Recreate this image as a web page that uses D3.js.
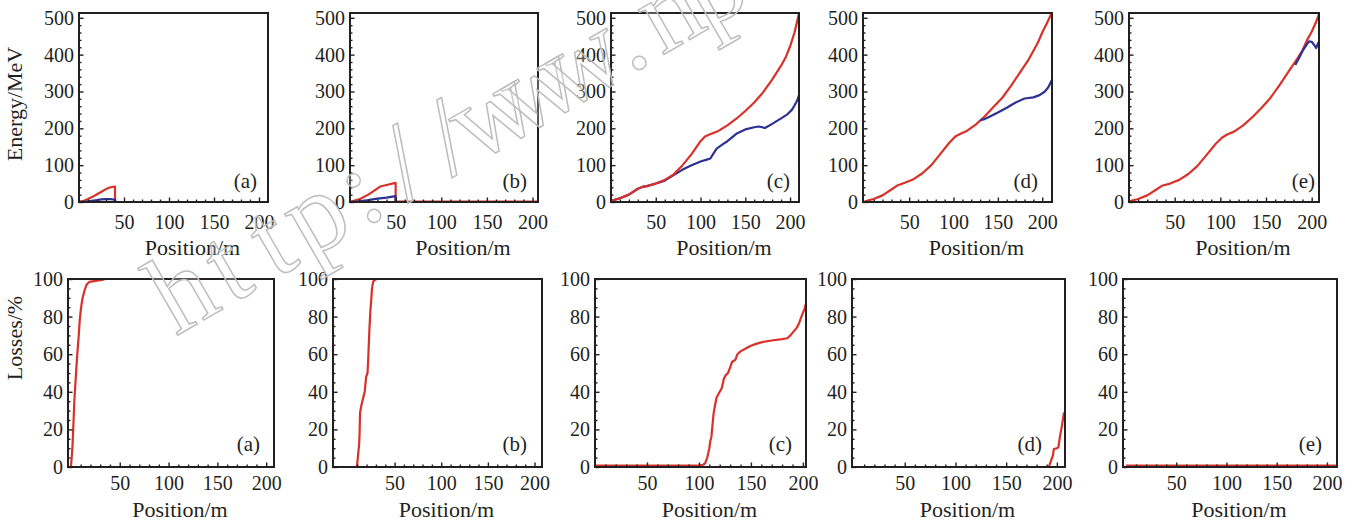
<!DOCTYPE html>
<html>
<head>
<meta charset="utf-8">
<script src="https://cdn.jsdelivr.net/npm/d3@7/dist/d3.min.js"></script>
<style>
  html, body { margin: 0; padding: 0; background: #fff; }
  svg { display: block; }
</style>
</head>
<body>
<svg id="fig" width="1364" height="523"></svg>
<script>
// tick values and labels
const xTicks = [50, 100, 150, 200];
const energyTicks = [0, 100, 200, 300, 400, 500];
const lossTicks = [0, 20, 40, 60, 80, 100];
const panelLetters = ['(a)', '(b)', '(c)', '(d)', '(e)'];

// Energy along the linac [position m, energy MeV]; red = design, blue = beam
const energyRedA = [[0, 0], [5, 3], [10, 8], [15, 14], [20, 21], [25, 28], [30, 35], [35, 40], [40, 42], [40, 0]];
const energyBlueA = [[0, 0], [10, 2], [20, 5], [25, 7], [30, 8], [35, 8], [40, 6], [40, 0]];
const energyRedB = [[0, 0], [10, 7], [20, 20], [25, 28], [33, 42], [40, 46], [50, 52], [50, 0.8], [206, 0.8]];
const energyBlueB = [[0, 0], [10, 2], [20, 5], [30, 9], [40, 12], [50, 16], [50, 0]];
const energyRedC = [[0, 3], [10, 10], [20, 20], [30, 36], [35, 41], [40, 43], [50, 50], [60, 60], [70, 75], [80, 100],
  [90, 130], [100, 165], [105, 178], [110, 183], [120, 193], [130, 208], [140, 226], [150, 247], [160, 270], [170, 298],
  [180, 332], [190, 370], [195, 392], [200, 422], [205, 460], [210, 512]];
const energyBlueC = [[0, 3], [10, 10], [20, 20], [30, 36], [35, 41], [40, 43], [50, 50], [55, 54], [60, 58], [70, 73],
  [80, 88], [90, 100], [100, 110], [107, 115], [111, 118], [114, 130], [118, 145], [125, 157], [130, 165], [140, 185],
  [150, 197], [160, 203], [165, 205], [172, 201], [180, 212], [190, 227], [197, 238], [202, 250], [205, 262], [208, 276], [210, 290]];
const energyRedD = [[0, 2], [10, 8], [20, 18], [30, 34], [36, 44], [45, 52], [55, 62], [65, 78], [75, 100], [85, 130],
  [95, 160], [102, 178], [108, 185], [115, 193], [125, 210], [135, 232], [145, 258], [155, 283], [165, 316], [175, 352],
  [185, 388], [195, 432], [200, 460], [205, 484], [211, 515]];
const energyBlueD = [[130, 222], [135, 225], [140, 231], [150, 243], [160, 256], [170, 270], [180, 281], [190, 284],
  [197, 290], [203, 300], [207, 312], [211, 332]];
const energyRedE = [[0, 2], [10, 8], [20, 18], [30, 34], [36, 44], [45, 50], [55, 60], [65, 76], [75, 98], [85, 128],
  [95, 158], [102, 175], [108, 184], [115, 191], [125, 208], [135, 230], [145, 255], [155, 283], [165, 318], [175, 355],
  [185, 392], [190, 412], [195, 440], [200, 462], [205, 490], [208, 510]];
const energyBlueE = [[182, 372], [186, 390], [190, 410], [194, 425], [197, 436], [200, 435], [203, 425], [205, 418],
  [207, 432], [208, 426]];

// Beam losses [position m, %]
const lossA = [[0, 0], [1.5, 10], [2.5, 22], [3.5, 35], [5, 48], [6.5, 60], [8, 70], [9, 78], [10, 83], [11, 87],
  [12, 90], [14, 94], [16, 97], [19, 98.5], [25, 99], [32, 99.5], [35, 100], [208, 100]];
const lossB = [[9.5, 0], [10.5, 4], [11, 7], [12, 12], [12.5, 18], [13, 29], [14.5, 33], [16, 36], [18, 40], [19.5, 48],
  [21, 50], [21.8, 58], [22.5, 67], [23.3, 76], [24.2, 84], [25, 89], [25.8, 95], [27, 98.5], [29, 99.6], [31, 100]];
const lossC = [[0, 0.8], [100, 0.8], [104, 1.2], [106, 2], [108, 5], [110, 10], [111, 14], [112, 16], [113, 22], [114, 28],
  [115.5, 33], [117, 37], [120, 40], [122, 42], [124, 47], [126, 49], [128, 50], [130, 53], [132, 56], [135, 57], [137, 60],
  [140, 61.5], [145, 63], [150, 64.5], [155, 65.5], [160, 66.3], [170, 67.3], [180, 68], [185, 68.5], [188, 70], [191, 72],
  [194, 74], [196, 76], [198, 79], [200, 82], [201.5, 84], [203, 87]];
const lossD = [[0, 0], [192, 0], [194, 3], [196, 6], [197, 9.5], [200, 10], [201.5, 10.5], [203, 16], [205, 22], [207, 29]];
const lossE = [[0, 0.8], [210, 0.8]];

const watermark = 'http://www.npr.';

const RED = '#d8312a';
const BLUE = '#2d3192';
const INK = '#231f20';
const FONT = '"Liberation Serif", "Times New Roman", serif';

// Panel layout (pixel frames) - the original figure panels are not evenly spaced.
// series are listed in drawing order
const topRow = [
  { left: 79, right: 268, xDomain: [0, 210], inset: 11, series: [[energyRedA, RED], [energyBlueA, BLUE]] },
  { left: 350, right: 538, xDomain: [0, 206], inset: 11, series: [[energyRedB, RED], [energyBlueB, BLUE]] },
  { left: 611, right: 799, xDomain: [0, 210], inset: 9, series: [[energyBlueC, BLUE], [energyRedC, RED]] },
  { left: 863, right: 1052, xDomain: [-2, 211], inset: 14, series: [[energyRedD, RED], [energyBlueD, BLUE]] },
  { left: 1129, right: 1319, xDomain: [0, 208], inset: 4, series: [[energyRedE, RED], [energyBlueE, BLUE]] },
];
const bottomRow = [
  { left: 68, right: 274, xDomain: [-3, 208], inset: 14, series: [[lossA, RED]] },
  { left: 333, right: 542, xDomain: [-16, 208], inset: 15, series: [[lossB, RED]] },
  { left: 595, right: 806, xDomain: [0, 203], inset: 14, series: [[lossC, RED]] },
  { left: 852, right: 1065, xDomain: [-2, 208], inset: 23, series: [[lossD, RED]] },
  { left: 1123, right: 1337, xDomain: [-3, 210], inset: 15, series: [[lossE, RED]] },
];

const svg = d3.select('#fig');
const defs = svg.append('defs');

function drawPanel(p, i, row) {
  const x = d3.scaleLinear().domain(p.xDomain).range([p.left, p.right]);
  const y = d3.scaleLinear().domain(row.yDomain).range([row.bottom, row.top]);
  const g = svg.append('g');

  const clipId = `clip-${row.name}-${i}`;
  defs.append('clipPath').attr('id', clipId)
    .append('rect')
    .attr('x', p.left).attr('y', row.top)
    .attr('width', p.right - p.left).attr('height', row.bottom - row.top);

  const line = d3.line()
    .x((d) => { return x(d[0]); })
    .y((d) => { return y(d[1]); });

  p.series.forEach(([data, color]) => {
    g.append('path')
      .datum(data)
      .attr('clip-path', `url(#${clipId})`)
      .attr('fill', 'none')
      .attr('stroke', color)
      .attr('stroke-width', 2.2)
      .attr('stroke-linejoin', 'round')
      .attr('d', line);
  });

  // minor ticks
  const xMinor = d3.range(10, p.xDomain[1], 10).filter((v) => v % 50 !== 0);
  g.append('g')
    .attr('transform', `translate(0, ${row.bottom})`)
    .call(d3.axisBottom(x).tickValues(xMinor).tickSize(-2.5).tickFormat(''))
    .call((a) => a.select('.domain').remove());
  const yMinor = d3.range(0, row.yDomain[1], row.yMinorStep).filter((v) => !row.ticks.includes(v));
  g.append('g')
    .attr('transform', `translate(${p.left}, 0)`)
    .call(d3.axisLeft(y).tickValues(yMinor).tickSize(-2.5).tickFormat(''))
    .call((a) => a.select('.domain').remove());

  // major ticks + labels
  const xAxis = g.append('g')
    .attr('transform', `translate(0, ${row.bottom})`)
    .call(d3.axisBottom(x).tickValues(xTicks).tickSize(-4.5).tickPadding(row.xPad));
  const yAxis = g.append('g')
    .attr('transform', `translate(${p.left}, 0)`)
    .call(d3.axisLeft(y).tickValues(row.ticks).tickSize(-4.5).tickPadding(5));
  [xAxis, yAxis].forEach((a) => {
    a.select('.domain').remove();
    a.attr('font-family', FONT).attr('font-size', 20);
    a.selectAll('text').attr('fill', INK);
  });
  g.selectAll('.tick line').attr('stroke', INK).attr('stroke-width', 1.4);

  // frame
  g.append('rect')
    .attr('x', p.left).attr('y', row.top)
    .attr('width', p.right - p.left).attr('height', row.bottom - row.top)
    .attr('fill', 'none')
    .attr('stroke', INK)
    .attr('stroke-width', 2);

  // panel letter
  g.append('text')
    .attr('x', p.right - p.inset)
    .attr('y', row.bottom - row.letterLift)
    .attr('text-anchor', 'end')
    .attr('font-family', FONT)
    .attr('font-size', 21)
    .attr('fill', INK)
    .text(panelLetters[i]);

  // x title
  g.append('text')
    .attr('x', (p.left + p.right) / 2 + row.titleShift)
    .attr('y', row.titleY)
    .attr('text-anchor', 'middle')
    .attr('font-family', FONT)
    .attr('font-size', 22)
    .attr('fill', INK)
    .text('Position/m');
}

const rows = [
  { name: 'energy', top: 13, bottom: 202, yDomain: [0, 513], ticks: energyTicks, yMinorStep: 20,
    xPad: 13, letterLift: 14, titleShift: 19, titleY: 255, panels: topRow,
    yTitle: 'Energy/MeV', yTitleY: 104 },
  { name: 'loss', top: 279, bottom: 467, yDomain: [0, 100], ticks: lossTicks, yMinorStep: 5,
    xPad: 9, letterLift: 16, titleShift: 9, titleY: 517, panels: bottomRow,
    yTitle: 'Losses/%', yTitleY: 338 },
];

rows.forEach((row) => {
  row.panels.forEach((p, i) => drawPanel(p, i, row));
  svg.append('text')
    .attr('transform', `translate(22, ${row.yTitleY}) rotate(-90)`)
    .attr('text-anchor', 'middle')
    .attr('font-family', FONT)
    .attr('font-size', 22)
    .attr('fill', INK)
    .text(row.yTitle);
});

// publisher watermark across the figure (fixed-pitch cells, like the original)
const cell = 51;
svg.append('text')
  .attr('transform', 'translate(178, 335) rotate(-30)')
  .attr('x', watermark.split('').map((d, k) => (k + 0.5) * cell).join(' '))
  .attr('y', 0)
  .attr('font-family', FONT)
  .attr('font-size', 112)
  .attr('text-anchor', 'middle')
  .attr('fill', 'rgba(255,255,255,0.25)')
  .attr('stroke', '#bdbdbd')
  .attr('stroke-width', 1.5)
  .text(watermark);
</script>
</body>
</html>
